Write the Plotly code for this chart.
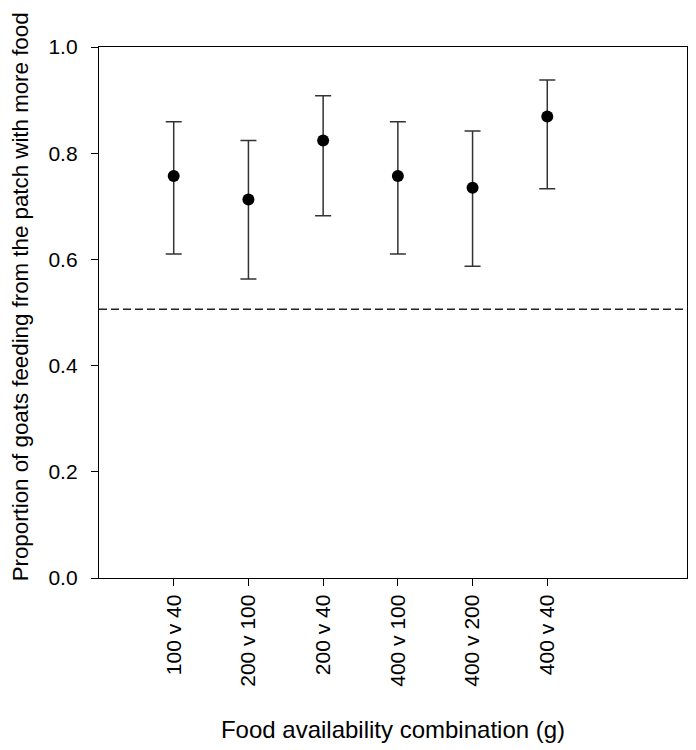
import plotly.graph_objects as go

# Food availability combinations (g)
combinations = ["100 v 40", "200 v 100", "200 v 40", "400 v 100", "400 v 200", "400 v 40"]
positions = [1, 2, 3, 4, 5, 6]
proportion = [0.757, 0.713, 0.824, 0.757, 0.735, 0.869]
upper_ci = [0.859, 0.824, 0.908, 0.859, 0.842, 0.938]
lower_ci = [0.610, 0.563, 0.682, 0.610, 0.587, 0.733]
chance_level = 0.506

y_ticks = [0.0, 0.2, 0.4, 0.6, 0.8, 1.0]

err_plus = [u - p for u, p in zip(upper_ci, proportion)]
err_minus = [p - l for p, l in zip(proportion, lower_ci)]

fig = go.Figure()

fig.add_hline(
    y=chance_level,
    line=dict(color="#222222", width=1.4, dash="8px,4px"),
)

fig.add_trace(
    go.Scatter(
        x=positions,
        y=proportion,
        mode="markers",
        marker=dict(color="black", size=12),
        error_y=dict(
            type="data",
            symmetric=False,
            array=err_plus,
            arrayminus=err_minus,
            color="#333333",
            thickness=1.5,
            width=8,
        ),
        showlegend=False,
    )
)

# y title placed by hand: it sits a little above the axis centre
fig.add_annotation(
    text="Proportion of goats feeding from the patch with more food",
    xref="paper",
    yref="paper",
    x=-0.133,
    y=0.53,
    xanchor="center",
    yanchor="middle",
    textangle=-90,
    showarrow=False,
    font=dict(size=22.3),
)

fig.update_layout(
    width=688,
    height=742,
    margin=dict(l=91, r=9, t=39, b=172),
    plot_bgcolor="white",
    paper_bgcolor="white",
    font=dict(family="Liberation Sans, Arial, sans-serif", size=21, color="black"),
    xaxis=dict(
        range=[0, 7.87],
        tickmode="array",
        tickvals=positions,
        ticktext=combinations,
        tickangle=-90,
        ticks="outside",
        ticklen=7,
        tickcolor="black",
        showline=True,
        linecolor="black",
        linewidth=1.3,
        mirror=True,
        showgrid=False,
        zeroline=False,
        title=dict(text="Food availability combination (g)", font=dict(size=24), standoff=35),
    ),
    yaxis=dict(
        range=[0, 1.0],
        tickmode="array",
        tickvals=y_ticks,
        tickformat=".1f",
        ticks="outside",
        ticklen=7,
        tickcolor="black",
        ticklabelstandoff=9,
        showline=True,
        linecolor="black",
        linewidth=1.3,
        mirror=True,
        showgrid=False,
        zeroline=False,
    ),
)

fig.write_html("out.html")
